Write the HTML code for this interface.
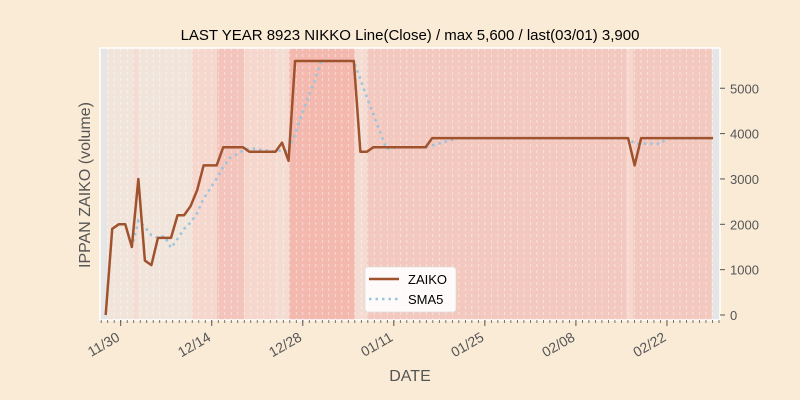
<!DOCTYPE html>
<html><head><meta charset="utf-8"><style>
body{margin:0;background:#faebd7;}
svg{display:block;font-family:"Liberation Sans",sans-serif;}
</style></head><body>
<svg id="c" width="800" height="400">
<rect width="800" height="400" fill="#faebd7"/>
<g id="bands"></g>
<g id="grid"></g>
<g id="series"></g>
<rect x="100" y="48" width="620" height="272" fill="none" stroke="#fff" stroke-width="1.5"/>
<g id="axes"></g>
<text x="410" y="40" text-anchor="middle" font-size="15" fill="#000">LAST YEAR 8923 NIKKO Line(Close) / max 5,600 / last(03/01) 3,900</text>
<text x="410" y="381" text-anchor="middle" font-size="16" fill="#555">DATE</text>
<text transform="translate(90,185) rotate(-90)" text-anchor="middle" font-size="16" fill="#555">IPPAN ZAIKO (volume)</text>
<g>
<rect x="365" y="267" width="91" height="45" rx="3" fill="#fff" fill-opacity="0.9" stroke="#ddd" stroke-width="0.8"/>
<line x1="369" y1="279" x2="399" y2="279" stroke="#a0522d" stroke-width="2.5"/>
<text x="408" y="284" font-size="13" fill="#000">ZAIKO</text>
<line x1="369" y1="299" x2="399" y2="299" stroke="#9ac4dd" stroke-width="2.5" stroke-dasharray="2.5,4"/>
<text x="408" y="304" font-size="13" fill="#000">SMA5</text>
</g>
</svg>
<script>
const values=[0,1900,2000,2000,1500,3000,1200,1100,1700,1700,1700,2200,2200,2400,2750,3300,3300,3300,3700,3700,3700,3700,3600,3600,3600,3600,3600,3800,3400,5600,5600,5600,5600,5600,5600,5600,5600,5600,5600,3600,3600,3700,3700,3700,3700,3700,3700,3700,3700,3700,3900,3900,3900,3900,3900,3900,3900,3900,3900,3900,3900,3900,3900,3900,3900,3900,3900,3900,3900,3900,3900,3900,3900,3900,3900,3900,3900,3900,3900,3900,3900,3300,3900,3900,3900,3900,3900,3900,3900,3900,3900,3900,3900,3900];
const tickDates=["11/30","12/14","12/28","01/11","01/25","02/08","02/22"];
const tickDays=[0,14,28,42,56,70,84];
const yTicks=[0,1000,2000,3000,4000,5000];
const bandStarts=[-3.1,-2.1,1.9,2.66,10.96,14.8,18.96,23.7,25.9,36.0,37.9,77.8,78.8,90.9];
const bandLevels=[0,1,2,1,3,4,3,2,5,2,6,3,6,0];
const firstDay=-2.3;
const X0=120.7,PX=6.503,STEP=6.53;
const xd=d=>X0+d*PX;
const xi=i=>105.7+i*STEP;
const yv=v=>315-v*0.04535;
const NS="http://www.w3.org/2000/svg";
function mk(t,a,p){const e=document.createElementNS(NS,t);for(const k in a)e.setAttribute(k,a[k]);p.appendChild(e);return e;}
const fills=["#e5e5e5","#f1e5db","#f4dcd2","#f6d7ce","#f2c4bb","#f3b8ae","#f2c8bf"];
const bands=document.getElementById('bands');
for(let i=0;i<bandStarts.length;i++){
 const x1=Math.max(100,xd(bandStarts[i]));
 const x2=i+1<bandStarts.length?xd(bandStarts[i+1]):720;
 const r=mk('rect',{x:x1,y:48,width:Math.max(0,Math.min(720,x2)-x1),height:272,fill:fills[bandLevels[i]]},bands);
 
 
}
const grid=document.getElementById('grid');
for(let d=-2;d<=91;d++){
 const x=xd(d);
 const l=mk('line',{x1:x,y1:48,x2:x,y2:320,stroke:'#fff','stroke-opacity':0.6,'stroke-width':0.8,'stroke-dasharray':'3,3'},grid);
 
 
}
const axes=document.getElementById('axes');
for(let d=-3;d<=92;d++){
 const x=xd(d);if(x<100||x>720)continue;
 const t=mk('line',{x1:x,y1:320,x2:x,y2:323,stroke:'#555','stroke-width':0.8},axes);
 
 
}
tickDays.forEach((d,i)=>{
 const x=xd(d);
 const t=mk('line',{x1:x,y1:320,x2:x,y2:326,stroke:'#555','stroke-width':1},axes);
 
 
 const tx=mk('text',{transform:`translate(${x},${340}) rotate(-30)`,'text-anchor':'end','font-size':14,fill:'#555'},axes);
 tx.textContent=tickDates[i];
 
 
});
yTicks.forEach(v=>{
 const y=yv(v);
 const t=mk('line',{x1:720,y1:y,x2:725,y2:y,stroke:'#555','stroke-width':1},axes);
 
 
 const tx=mk('text',{x:730,y:y+5,'font-size':13,fill:'#555'},axes);
 tx.textContent=v;
 
 
});
const series=document.getElementById('series');
const sma=[];
for(let i=4;i<values.length;i++){let s=0;for(let k=i-4;k<=i;k++)s+=values[k];sma.push([i,s/5]);}
const sp=mk('polyline',{points:sma.map(([i,v])=>xi(i)+','+yv(v)).join(' '),fill:'none',stroke:'#9ac4dd','stroke-width':2.5,'stroke-dasharray':'2.5,4'},series);


const zp=mk('polyline',{points:values.map((v,i)=>xi(i)+','+yv(v)).join(' '),fill:'none',stroke:'#a0522d','stroke-width':2.5,'stroke-linejoin':'round'},series);


</script>
</body></html>
